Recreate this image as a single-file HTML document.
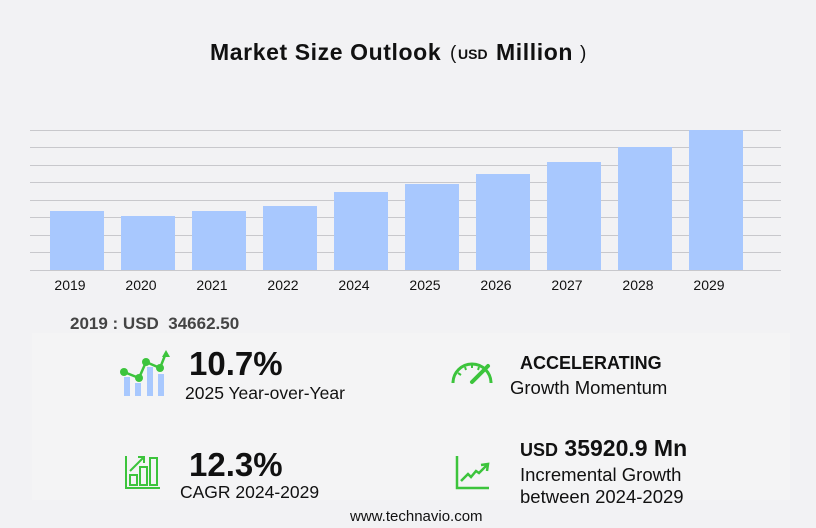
<!DOCTYPE html>
<html><head><meta charset="utf-8"><style>
html,body{margin:0;padding:0}
body{width:816px;height:528px;background:#f2f2f4;position:relative;overflow:hidden;font-family:"Liberation Sans",sans-serif;color:#111}
.t{position:absolute;white-space:nowrap;line-height:1}
.b{font-weight:bold}
</style></head><body>
<svg width="816" height="528" style="position:absolute;left:0;top:0">
<rect x="32" y="333" width="758" height="167" fill="#f4f4f5"/>
<g stroke="#c8c8cc" stroke-width="1">
<line x1="30" x2="781" y1="130.5" y2="130.5"/><line x1="30" x2="781" y1="147.5" y2="147.5"/>
<line x1="30" x2="781" y1="165.5" y2="165.5"/><line x1="30" x2="781" y1="182.5" y2="182.5"/>
<line x1="30" x2="781" y1="200.5" y2="200.5"/><line x1="30" x2="781" y1="217.5" y2="217.5"/>
<line x1="30" x2="781" y1="235.5" y2="235.5"/><line x1="30" x2="781" y1="252.5" y2="252.5"/>
<line x1="30" x2="781" y1="270.5" y2="270.5"/>
</g>
<g fill="#a8c8fe">
<rect x="50" y="211" width="54" height="59"/><rect x="121" y="216" width="54" height="54"/>
<rect x="192" y="211" width="54" height="59"/><rect x="263" y="206" width="54" height="64"/>
<rect x="334" y="192" width="54" height="78"/><rect x="405" y="184" width="54" height="86"/>
<rect x="476" y="174" width="54" height="96"/><rect x="547" y="162" width="54" height="108"/>
<rect x="618" y="147" width="54" height="123"/><rect x="689" y="130" width="54" height="140"/>
</g>
<g font-family="Liberation Sans,sans-serif" font-size="14" fill="#111" text-anchor="middle">
<text x="70" y="290">2019</text><text x="141" y="290">2020</text><text x="212" y="290">2021</text>
<text x="283" y="290">2022</text><text x="354" y="290">2024</text><text x="425" y="290">2025</text>
<text x="496" y="290">2026</text><text x="567" y="290">2027</text><text x="638" y="290">2028</text>
<text x="709" y="290">2029</text>
</g>
<g fill="#a8c8fe"><rect x="124" y="377" width="6" height="19"/><rect x="135" y="383" width="6" height="13"/><rect x="147" y="367" width="6" height="29"/><rect x="158" y="374" width="6" height="22"/></g>
<g stroke="#3cc43c" stroke-width="2.5" fill="none"><polyline points="124,372 139,378 146,362 160,368 166,353"/></g>
<g fill="#3cc43c"><circle cx="124" cy="372" r="4"/><circle cx="139" cy="378" r="4"/><circle cx="146" cy="362" r="4"/><circle cx="160" cy="368" r="4"/><polygon points="166,350 162,357 170,357"/></g>
<g stroke="#3cc43c" stroke-width="2" fill="none">
<polyline points="126,456 126,488 160,488"/>
<rect x="130" y="475" width="7" height="10"/><rect x="140" y="467" width="7" height="18"/><rect x="150" y="458" width="7" height="27"/>
<line x1="130" y1="471" x2="143" y2="458"/><polyline points="138,457 144,457 144,463"/>
</g>
<g stroke="#3cc43c" stroke-width="3" fill="none">
<path d="M453,383 A18,18 0 0 1 491,383"/>
<g stroke-width="2"><line x1="458" y1="373" x2="461" y2="375"/><line x1="465" y1="367" x2="466" y2="370"/><line x1="472" y1="365" x2="472" y2="368"/><line x1="479" y1="367" x2="478" y2="370"/></g>
<line x1="472" y1="382" x2="488" y2="366" stroke-width="4" stroke-linecap="round"/>
</g>
<g stroke="#3cc43c" stroke-width="2.5" fill="none">
<polyline points="457,456 457,488 489,488"/>
<polyline points="461,481 468,474 471,477 476,471 479,473 487,465"/>
<polyline points="481,465 488,464 487,471"/>
</g>
</svg>
<div class="t b" style="left:210px;top:41px;font-size:23px;letter-spacing:0.6px">Market Size Outlook</div>
<div class="t" style="left:450px;top:44px;font-size:19px">(</div>
<div class="t b" style="left:458px;top:47px;font-size:14px">USD</div>
<div class="t b" style="left:496px;top:41px;font-size:23px;letter-spacing:0.6px">Million</div>
<div class="t" style="left:580px;top:44px;font-size:19px">)</div>
<div class="t b" style="left:70px;top:315px;font-size:17px;color:#444">2019 : USD&nbsp; 34662.50</div>
<div class="t b" style="left:189px;top:347px;font-size:33px">10.7%</div>
<div class="t" style="left:185px;top:385px;font-size:17.5px">2025 Year-over-Year</div>
<div class="t b" style="left:520px;top:354px;font-size:18px">ACCELERATING</div>
<div class="t" style="left:510px;top:379px;font-size:18.5px">Growth Momentum</div>
<div class="t b" style="left:189px;top:448px;font-size:33px">12.3%</div>
<div class="t" style="left:180px;top:484px;font-size:17.5px">CAGR 2024-2029</div>
<div class="t b" style="left:520px;top:437px;font-size:23px"><span style="font-size:18px">USD</span> 35920.9 Mn</div>
<div class="t" style="left:520px;top:466px;font-size:18.5px">Incremental Growth</div>
<div class="t" style="left:520px;top:488px;font-size:18.5px">between 2024-2029</div>
<div class="t" style="left:350px;top:509px;font-size:15px">www.technavio.com</div>
</body></html>
